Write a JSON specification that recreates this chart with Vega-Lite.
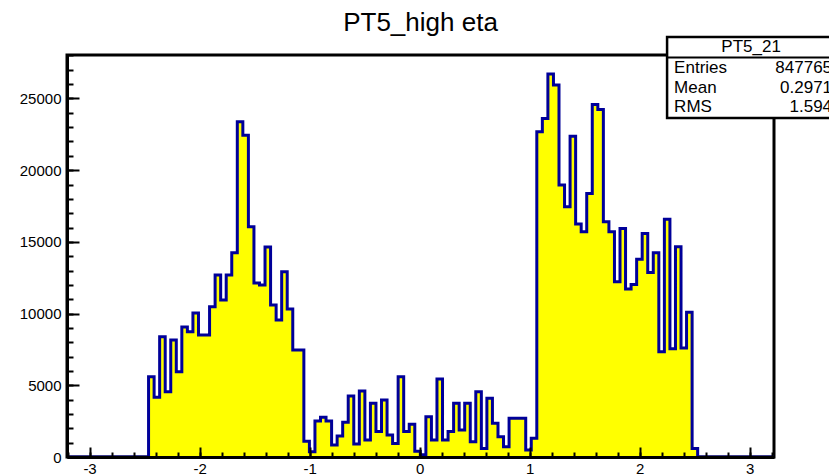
{
  "$schema": "https://vega.github.io/schema/vega-lite/v6.json",
  "width": 707,
  "height": 402,
  "autosize": {"type": "none"},
  "padding": {"left": 67, "top": 55, "right": 55, "bottom": 17},
  "background": "white",
  "config": {
    "font": "Liberation Sans",
    "view": {"stroke": "black", "strokeWidth": 3}
  },
  "title": {
    "text": "PT5_high eta",
    "font": "Liberation Sans",
    "fontSize": 26,
    "fontWeight": "normal",
    "color": "black",
    "anchor": "middle",
    "offset": 0
  },
  "datasets": {
    "h": [
      {"x": -3.2199, "n": 0}, {"x": -3.1695, "n": 0}, {"x": -3.1190, "n": 0}, {"x": -3.0686, "n": 0},
      {"x": -3.0182, "n": 0}, {"x": -2.9678, "n": 0}, {"x": -2.9174, "n": 0}, {"x": -2.8670, "n": 0},
      {"x": -2.8165, "n": 0}, {"x": -2.7661, "n": 0}, {"x": -2.7157, "n": 0}, {"x": -2.6653, "n": 0},
      {"x": -2.6149, "n": 0}, {"x": -2.5644, "n": 0}, {"x": -2.5140, "n": 0},
      {"x": -2.4636, "n": 5600}, {"x": -2.4132, "n": 4160}, {"x": -2.3628, "n": 8390}, {"x": -2.3123, "n": 4550},
      {"x": -2.2619, "n": 8160}, {"x": -2.2115, "n": 5950}, {"x": -2.1611, "n": 9060}, {"x": -2.1107, "n": 8730},
      {"x": -2.0602, "n": 10040}, {"x": -2.0098, "n": 8500}, {"x": -1.9594, "n": 8500}, {"x": -1.9090, "n": 10480},
      {"x": -1.8586, "n": 12690}, {"x": -1.8081, "n": 10940}, {"x": -1.7577, "n": 12690}, {"x": -1.7073, "n": 14240},
      {"x": -1.6569, "n": 23370}, {"x": -1.6065, "n": 22440}, {"x": -1.5560, "n": 16050}, {"x": -1.5056, "n": 12130},
      {"x": -1.4552, "n": 11990}, {"x": -1.4048, "n": 14640}, {"x": -1.3544, "n": 10590}, {"x": -1.3039, "n": 9550},
      {"x": -1.2535, "n": 12920}, {"x": -1.2031, "n": 10320}, {"x": -1.1527, "n": 7460}, {"x": -1.1023, "n": 7460},
      {"x": -1.0518, "n": 1100}, {"x": -1.0014, "n": 370}, {"x": -0.9510, "n": 2510}, {"x": -0.9006, "n": 2770},
      {"x": -0.8502, "n": 2510}, {"x": -0.7997, "n": 840}, {"x": -0.7493, "n": 1460}, {"x": -0.6989, "n": 2420},
      {"x": -0.6485, "n": 4250}, {"x": -0.5981, "n": 900}, {"x": -0.5476, "n": 4600}, {"x": -0.4972, "n": 1190},
      {"x": -0.4468, "n": 3740}, {"x": -0.3964, "n": 1770}, {"x": -0.3460, "n": 3970}, {"x": -0.2955, "n": 1530},
      {"x": -0.2451, "n": 950}, {"x": -0.1947, "n": 5600}, {"x": -0.1443, "n": 1770}, {"x": -0.0939, "n": 2280},
      {"x": -0.0434, "n": 400}, {"x": 0.0070, "n": 150}, {"x": 0.0574, "n": 2810}, {"x": 0.1078, "n": 1190},
      {"x": 0.1582, "n": 5440}, {"x": 0.2087, "n": 1190}, {"x": 0.2591, "n": 1770}, {"x": 0.3095, "n": 3740},
      {"x": 0.3599, "n": 1880}, {"x": 0.4103, "n": 3740}, {"x": 0.4608, "n": 1070}, {"x": 0.5112, "n": 4550},
      {"x": 0.5616, "n": 600}, {"x": 0.6120, "n": 4090}, {"x": 0.6624, "n": 2350}, {"x": 0.7129, "n": 1420},
      {"x": 0.7633, "n": 720}, {"x": 0.8137, "n": 2700}, {"x": 0.8641, "n": 2700}, {"x": 0.9145, "n": 2700},
      {"x": 0.9650, "n": 490}, {"x": 1.0154, "n": 1300}, {"x": 1.0658, "n": 22680}, {"x": 1.1162, "n": 23610},
      {"x": 1.1666, "n": 26700}, {"x": 1.2171, "n": 25930}, {"x": 1.2675, "n": 18960}, {"x": 1.3179, "n": 17450},
      {"x": 1.3683, "n": 22370}, {"x": 1.4187, "n": 16240}, {"x": 1.4692, "n": 15700}, {"x": 1.5196, "n": 18380},
      {"x": 1.5700, "n": 24580}, {"x": 1.6204, "n": 24230}, {"x": 1.6708, "n": 16400}, {"x": 1.7213, "n": 15700},
      {"x": 1.7717, "n": 12220}, {"x": 1.8221, "n": 15940}, {"x": 1.8725, "n": 11720}, {"x": 1.9229, "n": 12020},
      {"x": 1.9734, "n": 13780}, {"x": 2.0238, "n": 15590}, {"x": 2.0742, "n": 12860}, {"x": 2.1246, "n": 14240},
      {"x": 2.1750, "n": 7340}, {"x": 2.2255, "n": 16570}, {"x": 2.2759, "n": 7550}, {"x": 2.3263, "n": 14660},
      {"x": 2.3767, "n": 7600}, {"x": 2.4271, "n": 10100}, {"x": 2.4776, "n": 600},
      {"x": 2.5280, "n": 0}, {"x": 2.5784, "n": 0}, {"x": 2.6288, "n": 0}, {"x": 2.6793, "n": 0},
      {"x": 2.7297, "n": 0}, {"x": 2.7801, "n": 0}, {"x": 2.8305, "n": 0}, {"x": 2.8809, "n": 0},
      {"x": 2.9314, "n": 0}, {"x": 2.9818, "n": 0}, {"x": 3.0322, "n": 0}, {"x": 3.0826, "n": 0},
      {"x": 3.1330, "n": 0}, {"x": 3.1835, "n": 0}, {"x": 3.2339, "n": 0}
    ],
    "stats": [
      {"k": "Entries", "v": "847765", "y": 27120},
      {"k": "Mean", "v": "0.2971", "y": 25730},
      {"k": "RMS", "v": "1.594", "y": 24370}
    ]
  },
  "resolve": {"axis": {"x": "independent", "y": "independent"}},
  "layer": [
    {
      "data": {"name": "h"},
      "mark": {"type": "area", "interpolate": "step-after", "color": "#ffff00", "clip": true},
      "encoding": {
        "x": {
          "field": "x", "type": "quantitative",
          "scale": {"domain": [-3.205, 3.222], "nice": false, "zero": false},
          "axis": {
            "orient": "bottom", "title": null, "values": [-3, -2, -1, 0, 1, 2, 3],
            "labelExpr": "'' + datum.value", "tickSize": -10, "tickWidth": 2, "tickColor": "black",
            "labelPadding": 14, "labelFontSize": 15, "labelColor": "black", "labelFont": "Liberation Sans",
            "domain": true, "domainColor": "black", "domainWidth": 3, "grid": false, "zindex": 2
          }
        },
        "y": {
          "field": "n", "type": "quantitative",
          "scale": {"domain": [0, 28030], "nice": false},
          "axis": {
            "orient": "left", "title": null, "values": [0, 5000, 10000, 15000, 20000, 25000],
            "format": "d", "tickSize": -12, "tickWidth": 2, "tickColor": "black",
            "labelPadding": 18, "labelFontSize": 15, "labelColor": "black", "labelFont": "Liberation Sans",
            "domain": true, "domainColor": "black", "domainWidth": 3, "grid": false, "zindex": 2
          }
        }
      }
    },
    {
      "data": {"name": "h"},
      "mark": {"type": "line", "interpolate": "step-after", "color": "#000099", "strokeWidth": 3, "strokeJoin": "miter", "clip": true},
      "encoding": {
        "x": {
          "field": "x", "type": "quantitative",
          "axis": {
            "orient": "bottom", "title": null,
            "values": [-3.2, -3, -2.8, -2.6, -2.4, -2.2, -2, -1.8, -1.6, -1.4, -1.2, -1, -0.8, -0.6, -0.4, -0.2, 0, 0.2, 0.4, 0.6, 0.8, 1, 1.2, 1.4, 1.6, 1.8, 2, 2.2, 2.4, 2.6, 2.8, 3, 3.2],
            "labels": false, "tickSize": -5, "tickWidth": 2, "tickColor": "black",
            "domain": false, "grid": false, "zindex": 2
          }
        },
        "y": {
          "field": "n", "type": "quantitative",
          "axis": {
            "orient": "left", "title": null,
            "values": [0, 1000, 2000, 3000, 4000, 5000, 6000, 7000, 8000, 9000, 10000, 11000, 12000, 13000, 14000, 15000, 16000, 17000, 18000, 19000, 20000, 21000, 22000, 23000, 24000, 25000, 26000, 27000, 28000],
            "labels": false, "tickSize": -6, "tickWidth": 2, "tickColor": "black",
            "domain": false, "grid": false, "zindex": 2
          }
        }
      }
    },
    {
      "data": {"values": [{}]},
      "mark": {"type": "rect", "fill": "white", "stroke": "black", "strokeWidth": 2.5, "clip": false},
      "encoding": {
        "x": {"datum": 2.25, "type": "quantitative", "axis": null},
        "x2": {"datum": 3.8},
        "y": {"datum": 23638, "type": "quantitative", "axis": null},
        "y2": {"datum": 29285}
      }
    },
    {
      "data": {"values": [{}]},
      "mark": {"type": "rule", "stroke": "black", "strokeWidth": 2, "clip": false},
      "encoding": {
        "x": {"datum": 2.25, "type": "quantitative", "axis": null},
        "x2": {"datum": 3.8},
        "y": {"datum": 27857, "type": "quantitative", "axis": null}
      }
    },
    {
      "data": {"values": [{}]},
      "mark": {"type": "text", "text": "PT5_21", "font": "Liberation Sans", "fontSize": 17, "color": "black", "align": "center", "baseline": "middle", "clip": false},
      "encoding": {
        "x": {"datum": 3.014, "type": "quantitative", "axis": null},
        "y": {"datum": 28588, "type": "quantitative", "axis": null}
      }
    },
    {
      "data": {"name": "stats"},
      "mark": {"type": "text", "font": "Liberation Sans", "fontSize": 17, "color": "black", "align": "left", "baseline": "middle", "clip": false},
      "encoding": {
        "x": {"datum": 2.314, "type": "quantitative", "axis": null},
        "y": {"field": "y", "type": "quantitative", "axis": null},
        "text": {"field": "k"}
      }
    },
    {
      "data": {"name": "stats"},
      "mark": {"type": "text", "font": "Liberation Sans", "fontSize": 17, "color": "black", "align": "right", "baseline": "middle", "clip": false},
      "encoding": {
        "x": {"datum": 3.75, "type": "quantitative", "axis": null},
        "y": {"field": "y", "type": "quantitative", "axis": null},
        "text": {"field": "v"}
      }
    }
  ]
}
